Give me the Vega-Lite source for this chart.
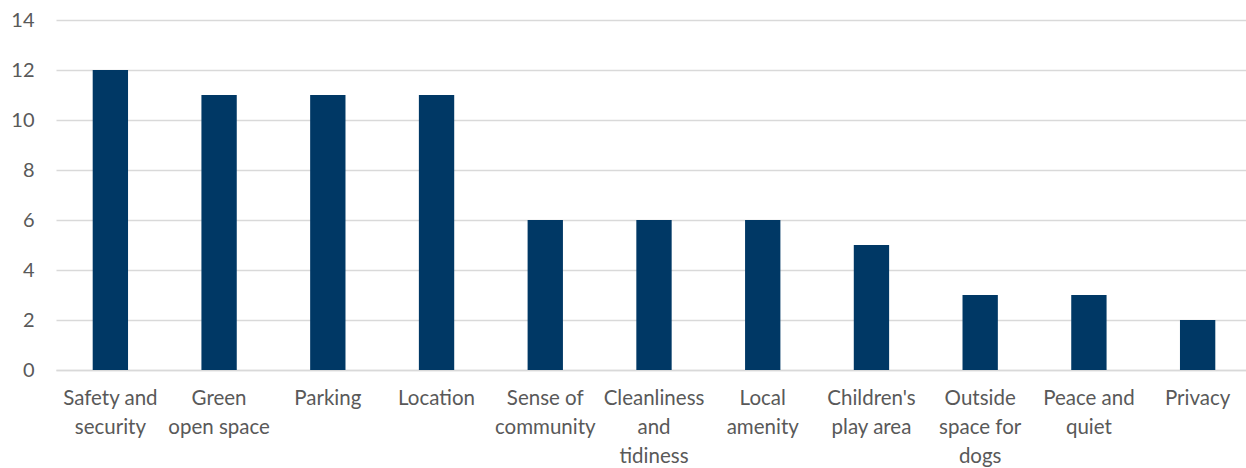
{
  "$schema": "https://vega.github.io/schema/vega-lite/v6.json",
  "autosize": "none",
  "width": 1196,
  "height": 350,
  "padding": {"left": 56, "top": 20, "right": 0, "bottom": 98},
  "background": "white",
  "config": {
    "view": {"stroke": null},
    "font": "Lato"
  },
  "data": {
    "values": [
      {"factor": "Safety and security", "count": 12},
      {"factor": "Green open space", "count": 11},
      {"factor": "Parking", "count": 11},
      {"factor": "Location", "count": 11},
      {"factor": "Sense of community", "count": 6},
      {"factor": "Cleanliness and tidiness", "count": 6},
      {"factor": "Local amenity", "count": 6},
      {"factor": "Children's play area", "count": 5},
      {"factor": "Outside space for dogs", "count": 3},
      {"factor": "Peace and quiet", "count": 3},
      {"factor": "Privacy", "count": 2}
    ]
  },
  "mark": {"type": "bar", "color": "#003865"},
  "encoding": {
    "x": {
      "field": "factor",
      "type": "nominal",
      "sort": null,
      "scale": {"paddingInner": 0.675, "paddingOuter": 0.3375},
      "axis": {
        "title": null,
        "labelAngle": 0,
        "labelFontSize": 20.5,
        "labelColor": "#595959",
        "labelPadding": 18,
        "labelLineHeight": 29,
        "labelLimit": 200,
        "ticks": false,
        "domainColor": "#d9d9d9",
        "domainWidth": 1.5,
        "labelExpr": "datum.value == 'Safety and security' ? ['Safety and', 'security'] : datum.value == 'Green open space' ? ['Green', 'open space'] : datum.value == 'Sense of community' ? ['Sense of', 'community'] : datum.value == 'Cleanliness and tidiness' ? ['Cleanliness', 'and', 'tidiness'] : datum.value == 'Local amenity' ? ['Local', 'amenity'] : datum.value == \"Children's play area\" ? [\"Children's\", 'play area'] : datum.value == 'Outside space for dogs' ? ['Outside', 'space for', 'dogs'] : datum.value == 'Peace and quiet' ? ['Peace and', 'quiet'] : datum.value"
      }
    },
    "y": {
      "field": "count",
      "type": "quantitative",
      "scale": {"domain": [0, 14], "nice": false},
      "axis": {
        "title": null,
        "values": [0, 2, 4, 6, 8, 10, 12, 14],
        "labelFontSize": 20,
        "labelColor": "#595959",
        "labelPadding": 22,
        "ticks": false,
        "domain": false,
        "gridColor": "#d9d9d9",
        "gridWidth": 1.5
      }
    }
  }
}
